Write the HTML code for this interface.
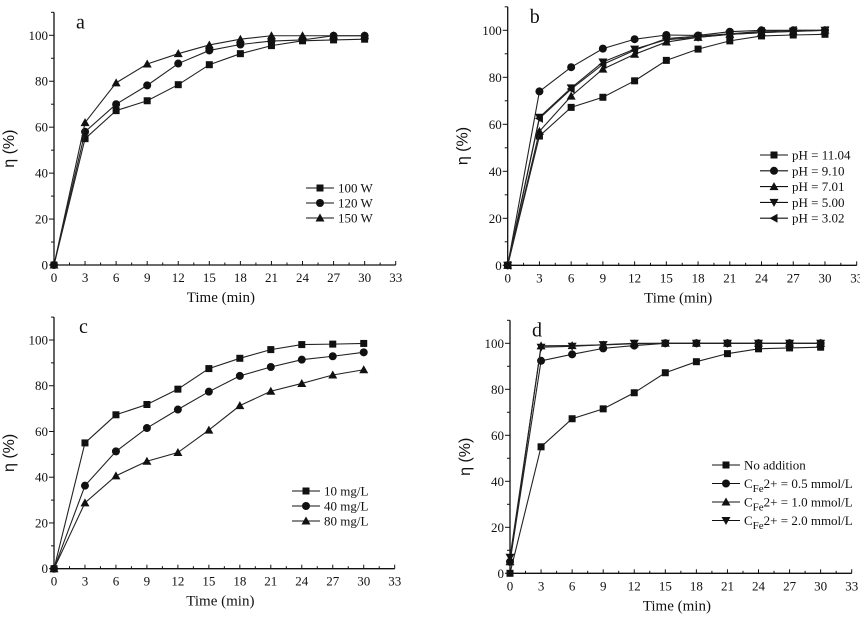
<!DOCTYPE html>
<html><head><meta charset="utf-8"><style>
html,body{margin:0;padding:0;background:#fff;}
svg{display:block;}
text{font-family:"Liberation Serif",serif;fill:#111;}
</style></head><body>
<svg id="fig" width="860" height="617" viewBox="0 0 860 617"></svg>
<script>
const times=[0,3,6,9,12,15,18,21,24,27,30];
const xTicks=[0,3,6,9,12,15,18,21,24,27,30,33];
const yTicks=[0,20,40,60,80,100];
// panel a
const a100=[0,55,67.2,71.5,78.5,87.2,92,95.5,97.6,98,98.3];
const a120=[0,58,70,78.2,87.7,93.4,96,97.5,98,99.8,99.8];
const a150=[0,62,79.3,87.5,92,95.8,98.3,99.8,99.8,99.8,99.8];
// panel b
const b1104=[0,55,67.2,71.5,78.5,87.2,92,95.5,97.6,98,98.3];
const b910=[0,74,84.3,92.2,96.2,98,97.8,99.4,100,100,100];
const b701=[0,57,72,83.5,89.8,95,97,98.3,99,99.5,100];
const b500=[0,63,75.5,86.5,92,96,97,98.3,99,99.6,100];
const b302=[0,62.5,75,85.5,91.5,96.5,97.5,98.5,99.5,100,100];
// panel c
const c10=[0,55,67.3,71.8,78.5,87.5,92,95.8,98,98.2,98.5];
const c40=[0,36.3,51.3,61.5,69.6,77.4,84.3,88.2,91.4,92.9,94.6];
const c80=[0,28.8,40.6,47,50.8,60.6,71.3,77.6,81,84.7,87];
// panel d
const dNone=[0,55,67.2,71.5,78.5,87.2,92,95.5,97.6,98,98.3];
const d05=[5,92.4,95.2,97.8,99,100,100,100,100,100,100];
const d10=[5,98.9,99,99.3,99.8,100,100,100,100,100,100];
const d20=[7,98.3,98.7,99.4,100,100,100,100,100,100,100];

const svg=document.getElementById('fig');
const NS='http://www.w3.org/2000/svg';
function mk(tag,attrs,parent){const e=document.createElementNS(NS,tag);for(const k in attrs)e.setAttribute(k,attrs[k]);(parent||svg).appendChild(e);return e;}
function marker(g,type,x,y){
  let e;
  if(type==='sq'){e=mk('rect',{x:x-3.5,y:y-3.5,width:7,height:7,fill:'#111'},g);}
  else if(type==='ci'){e=mk('circle',{cx:x,cy:y,r:4,fill:'#111'},g);}
  else if(type==='up'){e=mk('polygon',{points:`${x},${y-4.5} ${x-4.5},${y+3.5} ${x+4.5},${y+3.5}`,fill:'#111'},g);}
  else if(type==='dn'){e=mk('polygon',{points:`${x},${y+4.5} ${x-4.5},${y-3.5} ${x+4.5},${y-3.5}`,fill:'#111'},g);}
  else {e=mk('polygon',{points:`${x-4.5},${y} ${x+3.5},${y-4.5} ${x+3.5},${y+4.5}`,fill:'#111'},g);}
  
  
}
function panel(p){
  const g=mk('g',{});
  
  
  const X=v=>p.x0+(p.x1-p.x0)*v/33;
  const Y=v=>p.y0+(p.y100-p.y0)*v/100;
  const top=Y(110);
  const ax=mk('path',{d:`M${p.x0},${top}V${p.y0}H${p.x1}`,stroke:'#111','stroke-width':1.3,fill:'none'},g);
  
  
  for(let v=0;v<=33;v+=1.5){const x=X(v);const major=(v%3===0);mk('line',{x1:x,x2:x,y1:p.y0,y2:p.y0-(major?4:2.5),stroke:'#111','stroke-width':1},g);}
  for(let v=0;v<=110;v+=10){const y=Y(v);const major=(v%20===0);mk('line',{x1:p.x0,x2:p.x0-(major?5:3),y1:y,y2:y,stroke:'#111','stroke-width':1},g);}
  xTicks.forEach(v=>{const t=mk('text',{x:X(v),y:p.y0+17,'text-anchor':'middle','font-size':13},g);t.textContent=v;
    });
  yTicks.forEach(v=>{const t=mk('text',{x:p.x0-6,y:Y(v)+4.5,'text-anchor':'end','font-size':13},g);t.textContent=v;
    });
  const xt=mk('text',{x:(p.x0+p.x1)/2-4,y:p.y0+37,'text-anchor':'middle','font-size':15},g);xt.textContent='Time (min)';
  
  const yx=p.x0-40, yy=(p.y0+top)/2+10;
  const yt=mk('text',{x:yx,y:yy,'text-anchor':'middle','font-size':16,transform:`rotate(-90 ${yx} ${yy})`,style:'font-family:"Liberation Sans",sans-serif'},g);yt.textContent='η (%)';
  
  const lt=mk('text',{x:p.x0+p.lx,y:top+16,'font-size':20},g);lt.textContent=p.id;
  
  p.series.forEach(s=>{
    const sg=mk('g',{},g);
    
    
    const pts=s.data.map((v,i)=>X(times[i])+','+Y(v)).join(' ');
    mk('polyline',{points:pts,fill:'none',stroke:'#222','stroke-width':1.1},sg);
    s.data.forEach((v,i)=>marker(sg,s.m,X(times[i]),Y(v)));
  });
  p.series.forEach((s,i)=>{
    const lg=mk('g',{},g);
    
    
    const y=p.legY+i*p.legDy;
    mk('line',{x1:p.legX,x2:p.legX+28,y1:y,y2:y,stroke:'#111','stroke-width':1.1},lg);
    marker(lg,s.m,p.legX+14,y);
    const t=mk('text',{x:p.legX+32,y:y+4.5,'font-size':13},lg);
    if(s.sub){t.innerHTML='C<tspan dy="4" font-size="11">Fe</tspan><tspan dy="-4">2+ = '+s.sub+'</tspan>';}
    else t.textContent=s.name;
  });
}
panel({id:'a',x0:54,x1:395.7,y0:265,y100:35.3,lx:22,legX:306,legY:188,legDy:15,
 series:[{name:'100 W',m:'sq',data:a100},{name:'120 W',m:'ci',data:a120},{name:'150 W',m:'up',data:a150}]});
panel({id:'b',x0:507.7,x1:856.7,y0:265.3,y100:30.3,lx:22,legX:760,legY:155,legDy:15.8,
 series:[{name:'pH = 11.04',m:'sq',data:b1104},{name:'pH = 9.10',m:'ci',data:b910},{name:'pH = 7.01',m:'up',data:b701},{name:'pH = 5.00',m:'dn',data:b500},{name:'pH = 3.02',m:'lf',data:b302}]});
panel({id:'c',x0:54,x1:394.7,y0:568.7,y100:340,lx:25,legX:292,legY:491,legDy:15,
 series:[{name:'10 mg/L',m:'sq',data:c10},{name:'40 mg/L',m:'ci',data:c40},{name:'80 mg/L',m:'up',data:c80}]});
panel({id:'d',x0:510,x1:851.7,y0:573.3,y100:343.3,lx:22,legX:712,legY:465,legDy:18.5,
 series:[{name:'No addition',m:'sq',data:dNone},{name:'C Fe2+ 0.5',sub:'0.5 mmol/L',m:'ci',data:d05},{name:'C Fe2+ 1.0',sub:'1.0 mmol/L',m:'up',data:d10},{name:'C Fe2+ 2.0',sub:'2.0 mmol/L',m:'dn',data:d20}]});
</script>
</body></html>
